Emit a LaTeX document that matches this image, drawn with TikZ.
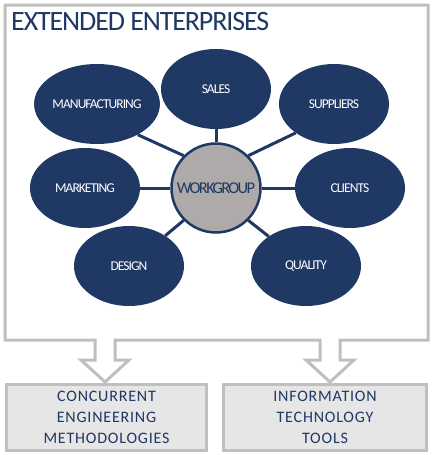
\documentclass[tikz,border=0pt]{standalone}
\usepackage{fontspec}
\setmainfont{Carlito}
\usetikzlibrary{shapes.geometric}
\definecolor{navy}{HTML}{1F3864}
\definecolor{hubgray}{HTML}{AEAAAA}
\definecolor{framegray}{HTML}{BFBFBF}
\definecolor{boxgray}{HTML}{E7E6E6}

\begin{document}
\begin{tikzpicture}[x=1pt,y=-1pt,
    dept/.style = {ellipse, fill=navy, text=white, inner sep=0pt,
      minimum width=110pt, minimum height=80pt,
      font=\fontsize{13.5}{14}\selectfont\addfontfeature{LetterSpace=-7}},
    hub/.style = {circle, fill=hubgray, draw=navy, line width=2.5pt,
      minimum size=89pt, inner sep=0pt, text=navy,
      font=\fontsize{16.5}{17}\selectfont\addfontfeature{LetterSpace=-10}},
    link/.style = {draw=navy, line width=3pt},
    result/.style = {rectangle, draw=framegray, fill=boxgray, line width=3pt,
      minimum height=66pt, align=center, text=navy,
      font=\fontsize{16}{21}\selectfont\addfontfeature{LetterSpace=5}}]
  \useasboundingbox (0,0) rectangle (434,455);

  % frame with the two arrows
  \draw[draw=framegray, fill=white, line width=3pt, line join=miter]
    (5,5) -- (428,5) -- (428,340) -- (340,340) -- (340,360) -- (354,360)
    -- (330,382) -- (306,360) -- (320,360) -- (320,340) -- (115,340)
    -- (115,360) -- (129,360) -- (105,382) -- (81,360) -- (95,360)
    -- (95,340) -- (5,340) -- cycle;
  \node[anchor=base west, inner sep=0pt, text=navy,
    font=\fontsize{28}{30}\selectfont\addfontfeature{LetterSpace=-4}]
    (title) at (11,30) {EXTENDED ENTERPRISES};

  \node[hub] (wg) at (216,188) {WORKGROUP};
  \node[dept] (sales) at (216,89) {SALES};
  \node[dept] (manu) at (97,104) {MANUFACTURING};
  \node[dept] (supp) at (334,104) {SUPPLIERS};
  \node[dept] (mark) at (85,188) {MARKETING\hspace{12pt}};
  \node[dept] (clients) at (350,188) {CLIENTS};
  \node[dept] (design) at (129,266) {DESIGN};
  \node[dept] (quality) at (306,266) {QUALITY};

  \draw[link] (wg) -- (sales);
  \draw[link] (wg.135) -- (manu.-37);
  \draw[link] (wg.45) -- (supp.217);
  \draw[link] (wg) -- (mark);
  \draw[link] (wg) -- (clients);
  \draw[link] (wg.225) -- (design);
  \draw[link] (wg.-45) -- (quality);

  \node[result, minimum width=200pt] (methods) at (106.5,417.5)
    {CONCURRENT\\ENGINEERING\\METHODOLOGIES};
  \node[result, minimum width=203pt] (tools) at (325,417.5)
    {INFORMATION\\TECHNOLOGY\\TOOLS};
\end{tikzpicture}
\end{document}
